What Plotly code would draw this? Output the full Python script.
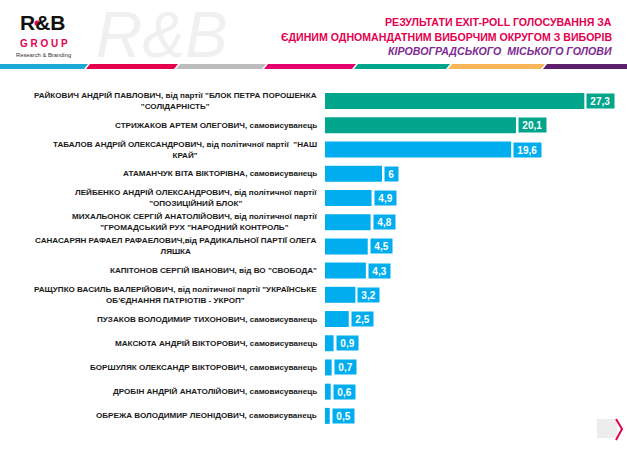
import plotly.graph_objects as go

candidates = [
    'РАЙКОВИЧ АНДРІЙ ПАВЛОВИЧ, від партії "БЛОК ПЕТРА ПОРОШЕНКА<br>"СОЛІДАРНІСТЬ"',
    'СТРИЖАКОВ АРТЕМ ОЛЕГОВИЧ, самовисуванець',
    'ТАБАЛОВ АНДРІЙ ОЛЕКСАНДРОВИЧ, від політичної партії  "НАШ<br>КРАЙ"',
    'АТАМАНЧУК ВІТА ВІКТОРІВНА, самовисуванець',
    'ЛЕЙБЕНКО АНДРІЙ ОЛЕКСАНДРОВИЧ, від політичної партії<br>"ОПОЗИЦІЙНИЙ БЛОК"',
    'МИХАЛЬОНОК СЕРГІЙ АНАТОЛІЙОВИЧ, від політичної партії<br>"ГРОМАДСЬКИЙ РУХ "НАРОДНИЙ КОНТРОЛЬ"',
    'САНАСАРЯН РАФАЕЛ РАФАЕЛОВИЧ,від РАДИКАЛЬНОЇ ПАРТІЇ ОЛЕГА<br>ЛЯШКА',
    'КАПІТОНОВ СЕРГІЙ ІВАНОВИЧ, від ВО "СВОБОДА"',
    'РАЩУПКО ВАСИЛЬ ВАЛЕРІЙОВИЧ, від політичної партії "УКРАЇНСЬКЕ<br>ОБ\'ЄДНАННЯ ПАТРІОТІВ - УКРОП"',
    'ПУЗАКОВ ВОЛОДИМИР ТИХОНОВИЧ, самовисуванець',
    'МАКСЮТА АНДРІЙ ВІКТОРОВИЧ, самовисуванець',
    'БОРШУЛЯК ОЛЕКСАНДР ВІКТОРОВИЧ, самовисуванець',
    'ДРОБІН АНДРІЙ АНАТОЛІЙОВИЧ, самовисуванець',
    'ОБРЕЖА ВОЛОДИМИР ЛЕОНІДОВИЧ, самовисуванець',
]
values = [27.3, 20.1, 19.6, 6, 4.9, 4.8, 4.5, 4.3, 3.2, 2.5, 0.9, 0.7, 0.6, 0.5]
value_labels = ["27,3", "20,1", "19,6", "6", "4,9", "4,8", "4,5", "4,3", "3,2", "2,5", "0,9", "0,7", "0,6", "0,5"]

title_lines = ["РЕЗУЛЬТАТИ EXIT-POLL ГОЛОСУВАННЯ ЗА",
               "ЄДИНИМ ОДНОМАНДАТНИМ ВИБОРЧИМ ОКРУГОМ З ВИБОРІВ",
               "КІРОВОГРАДСЬКОГО  МІСЬКОГО ГОЛОВИ"]

GREEN = "#00A58C"
BLUE = "#00AEEF"
colors = [GREEN, GREEN] + [BLUE] * (len(values) - 2)

ids = list(range(len(values)))

W, H = 627, 449
L, R, T, B = 325, 610, 89, 428


def px(x):
    return (x - L) / (R - L)


def py(y):
    return (B - y) / (B - T)


fig = go.Figure()
fig.add_trace(go.Bar(
    x=values, y=ids, orientation="h",
    marker=dict(color=colors, line=dict(width=0)),
    width=0.66, hoverinfo="skip",
))

ann = []
FONT = "Liberation Sans, Arial, sans-serif"
for i, (lab, v, vl, c) in enumerate(zip(candidates, values, value_labels, colors)):
    ann.append(dict(
        xref="paper", yref="y", x=0, y=i, xanchor="right", yanchor="middle",
        xshift=-6, text="<b>" + lab + "</b>", showarrow=False, align="center",
        font=dict(family=FONT, size=8.1, color="#1a1a1a"),
    ))
    nd = sum(ch.isdigit() for ch in vl)
    nc = vl.count(",")
    ann.append(dict(
        xref="x", yref="y", x=v, y=i, xanchor="left", yanchor="middle",
        xshift=2, text="<b>" + vl + "</b>", showarrow=False,
        bgcolor=c, borderpad=0, height=14, width=5.6 * nd + 2.8 * nc + 7,
        font=dict(family=FONT, size=10, color="white"),
    ))

# Title
title_colors = ["#E4004F", "#E4004F", "#7E2A92"]
title_y = [22, 37, 51]
for t, col, yy, k in zip(title_lines, title_colors, title_y, range(3)):
    txt = "<b>" + t + "</b>" if k < 2 else "<b><i>" + t + "</i></b>"
    ann.append(dict(
        xref="paper", yref="paper", x=px(614), y=py(yy), xanchor="right",
        yanchor="middle", text=txt, showarrow=False,
        font=dict(family=FONT, size=10.6, color=col),
    ))

# Logo & watermark
ann.append(dict(xref="paper", yref="paper", x=px(162), y=py(35), xanchor="center",
                yanchor="middle", text="<i>R&B</i>", showarrow=False,
                font=dict(family=FONT, size=64, color="#F0F0F0")))
ann.append(dict(xref="paper", yref="paper", x=px(43), y=py(23), xanchor="center",
                yanchor="middle", text="<b>R&B</b>", showarrow=False,
                font=dict(family=FONT, size=21, color="#111111")))
ann.append(dict(xref="paper", yref="paper", x=px(44), y=py(43), xanchor="center",
                yanchor="middle", text="<b>G R O U P</b>", showarrow=False,
                font=dict(family=FONT, size=10, color="#E4004F")))
ann.append(dict(xref="paper", yref="paper", x=px(43), y=py(55), xanchor="center",
                yanchor="middle", text="Research & Branding", showarrow=False,
                font=dict(family=FONT, size=5.8, color="#333333")))

shapes = []
# red dot in logo
shapes.append(dict(type="circle", xref="paper", yref="paper",
                   x0=px(34.5), x1=px(40), y0=py(26), y1=py(20.5),
                   fillcolor="#E4004F", line=dict(width=0)))

# stripe
stripe_cols = ["#1BA9D6", "#E4004F", "#BDBDBD", "#E5006E", "#00A58C", "#F9B55A", "#5E1F6E"]
bounds = [0, 87, 177, 265, 355, 449, 544, 640]
y0s, y1s = 64, 69
for j, col in enumerate(stripe_cols):
    a, b = bounds[j], bounds[j + 1]
    xa = a + (1 if j > 0 else -5)
    xb = b - 1
    path = "M {} {} L {} {} L {} {} L {} {} Z".format(
        px(xa - 2), py(y1s), px(xb - 2), py(y1s), px(xb + 2), py(y0s), px(xa + 2), py(y0s))
    shapes.append(dict(type="path", xref="paper", yref="paper", path=path,
                       fillcolor=col, line=dict(width=0)))

# bottom-right nav chevron
shapes.append(dict(type="rect", xref="paper", yref="paper",
                   x0=px(597), x1=px(617), y0=py(438), y1=py(419),
                   fillcolor="#EDEDED", line=dict(width=0)))
chev = "M {} {} L {} {} L {} {}".format(px(616), py(419), px(622), py(429), px(616), py(440))
shapes.append(dict(type="path", xref="paper", yref="paper", path=chev,
                   line=dict(color="#E4004F", width=2)))

fig.update_layout(
    width=W, height=H,
    margin=dict(l=L, r=W - R, t=T, b=H - B, pad=0),
    paper_bgcolor="white", plot_bgcolor="white",
    showlegend=False,
    xaxis=dict(range=[0, 30], visible=False, fixedrange=True),
    yaxis=dict(range=[len(values) - 0.5, -0.5], visible=False, fixedrange=True),
    annotations=ann, shapes=shapes, bargap=0.34,
)

fig.write_html("out.html", config={"displayModeBar": False},
               post_script="document.body.style.margin='0';document.body.style.overflow='hidden';")
